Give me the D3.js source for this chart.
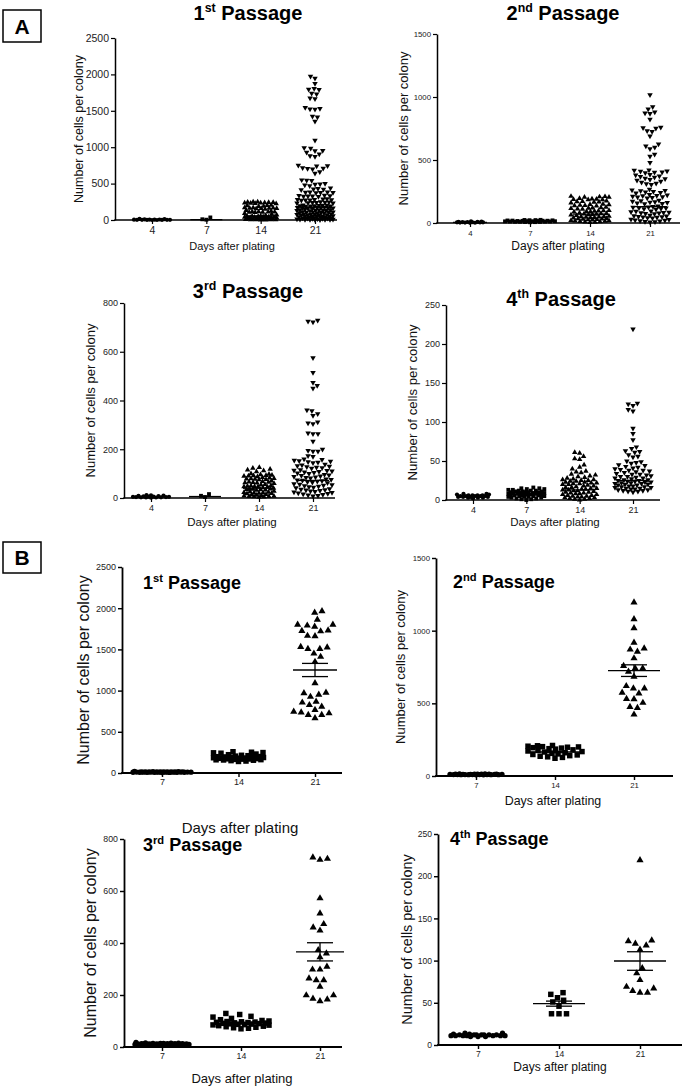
<!DOCTYPE html>
<html><head><meta charset="utf-8">
<script src="https://cdn.jsdelivr.net/npm/d3@7"></script>
<style>
body{margin:0;background:#fff}
svg{display:block}
text{font-family:"Liberation Sans",Arial,Helvetica,sans-serif}
</style>
</head><body>
<svg id="fig" width="685" height="1087"></svg>
<script>
// ---------------- DATA ----------------
const daysA = ["4", "7", "14", "21"];
const daysB = ["7", "14", "21"];
const ticks2500 = [0, 500, 1000, 1500, 2000, 2500];
const ticks1500 = [0, 500, 1000, 1500];
const ticks800 = [0, 200, 400, 600, 800];
const ticks250 = [0, 50, 100, 150, 200, 250];
const yTitle = "Number of cells per colony";
const xTitle = "Days after plating";
const passageNum = ["1", "2", "3", "4"];
const passageSuffix = ["st", "nd", "rd", "th"];
const panelLetters = ["A", "B"];

// Panel A, 1st passage
const A1_day4 = [0, 0, 1, 1, 2, 2, 3, 3, 4, 5, 6, 7, 9, 11, 14];
const A1_day7 = [4, 10, 35];
const A1_day14 = [250, 248, 245, 243, 240, 238, 236, 233, 230, 228, 225, 205, 200, 196, 190, 185, 170, 168, 166, 164, 162, 160, 158, 155, 150, 130, 120, 116, 114, 112, 110, 108, 106, 104, 90, 80, 70, 62, 56, 54, 50, 48, 46, 44, 42, 40, 38, 36, 32, 30, 28, 26, 24, 22, 20, 18, 16, 14, 12, 10, 9, 8, 6, 5, 4, 3, 2, 1];
const A1_day21 = [1975, 1945, 1875, 1805, 1795, 1790, 1740, 1730, 1675, 1665, 1545, 1530, 1525, 1520, 1425, 1415, 1355, 1095, 990, 985, 955, 950, 930, 905, 880, 870, 750, 745, 740, 715, 710, 705, 700, 660, 640, 550, 545, 540, 500, 495, 490, 480, 470, 440, 430, 425, 420, 415,
  385, 382, 380, 378, 375, 372, 340, 336, 332, 330, 328, 325, 322, 290, 286, 282, 280, 278, 275, 272, 270, 248, 245, 242, 240, 238, 236, 234, 232, 205, 202, 200, 198, 196, 194, 192, 190, 188,
  175, 172, 170, 168, 166, 164, 162, 160, 158, 142, 140, 138, 136, 134, 132, 130, 128, 126, 112, 110, 108, 106, 104, 102, 100, 98, 96, 82, 80, 78, 76, 74, 72, 70, 68, 66,
  56, 54, 52, 50, 48, 46, 44, 42, 40, 32, 30, 28, 26, 24, 22, 20, 18, 16, 12, 10, 8, 7, 6, 5, 4, 3, 2];
const A1_median = [3, 6, 55, 180];

// Panel A, 2nd passage
const A2_day4 = [1, 2, 3, 3, 4, 5, 5, 6, 7, 8, 9, 10, 12, 14];
const A2_day7 = [6, 7, 8, 9, 10, 10, 11, 12, 12, 13, 14, 14, 15, 16, 16, 17, 18, 18, 19, 20, 21, 22, 23, 24, 25];
const A2_day14 = [212, 210, 208, 206, 205, 195, 192, 190, 188, 186, 185, 175, 172, 170, 168, 165, 160, 150, 148, 145, 142, 140, 138, 135, 125, 122, 120, 118, 115, 112, 110, 100, 98, 96, 94, 92, 90, 88, 80, 76, 74, 72, 70, 68, 66, 64, 60, 55, 52, 50, 48, 46, 44, 42, 40, 36, 34, 32, 30, 28, 26, 24, 20, 18, 16, 14, 12, 10, 8, 6, 4];
const A2_day21 = [1018, 922, 905, 880, 872, 868, 822, 760, 755, 752, 732, 726, 690, 626, 610, 600, 588, 545, 530, 480, 420, 418, 412, 410, 405, 402, 398,
  385, 380, 372, 368, 362, 355, 350, 345, 338, 330, 322, 315, 310, 305,
  268, 262, 258, 255, 250, 246, 242, 238, 225, 222, 218, 215, 212, 208, 205, 202, 198, 180, 176, 172, 168, 165, 162, 158, 155, 152,
  135, 130, 127, 124, 121, 118, 115, 112, 108, 95, 92, 88, 85, 82, 80, 78, 75, 72, 60, 57, 54, 51, 48, 46, 44, 42, 40, 30, 27, 24, 21, 18, 15, 12, 10, 8];
const A2_median = [5, 14, 70, 130];

// Panel A, 3rd passage
const A3_day4 = [1, 2, 2, 3, 3, 4, 4, 5, 5, 6, 6, 7, 8, 9, 10, 11, 12];
const A3_day7 = [4, 9, 16];
const A3_day14 = [125, 122, 118, 115, 112, 108, 100, 98, 96, 94, 93, 92, 91, 90, 88, 84, 82, 80, 79, 78, 77, 76, 75, 70, 68, 66, 65, 64, 63, 62, 60,
  56, 54, 52, 50, 49, 48, 47, 46, 45, 42, 40, 38, 37, 36, 35, 34, 33, 32, 28, 26, 24, 23, 22, 21, 20, 19, 18, 15, 13, 12, 10, 9, 8, 7, 6, 5, 4, 3];
const A3_day21 = [729, 725, 722, 575, 515, 474, 461, 450, 361, 358, 345, 338, 311, 307, 304, 266, 263, 263, 232, 200, 195, 191, 191, 173, 170,
  160, 158, 155, 152, 150, 148, 146, 144, 138, 135, 132, 130, 128, 126, 124, 122, 116, 114, 112, 110, 108, 106, 104, 102, 100,
  96, 94, 92, 90, 88, 86, 84, 82, 78, 76, 74, 72, 70, 68, 66, 64, 62, 58, 56, 54, 52, 50, 48, 46, 44, 42, 38, 36, 34, 32, 30, 28, 26, 24, 22, 20, 18, 16, 14, 12, 10, 8];
const A3_median = [5, 6, 40, 72];

// Panel A, 4th passage
const A4_day4 = [2, 3, 3, 3, 4, 4, 4, 4, 5, 5, 5, 5, 5, 6, 6, 6, 6, 7, 7, 8, 8];
const A4_day7 = [16, 15, 15, 14, 14, 13, 13, 12, 12, 12, 11, 11, 11, 10, 10, 10, 10, 9, 9, 9, 9, 8, 8, 8, 8, 7, 7, 7, 7, 6, 6, 6, 5, 5, 5, 4, 4, 4, 3, 3, 2, 2, 1, 1, 0];
const A4_day14 = [61, 60, 56, 53, 52, 45, 42, 40, 37, 36, 35, 33, 32, 31, 30, 29, 28, 27, 26, 26, 25, 25, 24, 24, 23, 23, 22, 22, 21, 21, 20, 20, 19, 18, 18, 17, 16, 16, 15, 15, 14, 14, 13, 13, 12, 12, 11, 10, 10, 9, 9, 8, 8, 7, 7, 6, 6, 5, 5, 4, 4, 3, 3, 2, 2, 1, 1, 0];
const A4_day21 = [219, 124, 123, 121, 116, 114, 92, 85, 77, 68, 66, 63, 62, 61, 58, 56, 55, 50, 49, 48, 47, 45, 44, 43, 42, 41, 40, 39, 38, 38, 37, 36, 35, 34, 33, 33, 32, 31, 30, 30, 29, 28, 28, 27, 26, 26, 25, 25, 24, 24, 23, 23, 22, 22, 21, 21, 20, 20, 19, 19, 18, 18, 17, 17, 16, 16, 15, 15, 14, 14, 13, 13, 12, 12, 11, 11, 10];
const A4_median = [5, 7, 13, 25];

// Panel B, 1st passage
const B1_day7 = [8, 10, 12, 9, 11, 14, 7, 13, 10, 12, 15, 9, 11, 8, 16, 10, 12, 13, 11, 9, 14, 10, 12, 18, 6, 11, 13, 10, 9, 12];
const B1_day14 = [258, 252, 248, 245, 240, 230, 222, 215, 210, 205, 200, 198, 195, 192, 190, 188, 185, 182, 180, 178, 175, 172, 170, 168, 165, 162, 160, 158, 155, 150, 145, 140];
const B1_day21 = [1965, 1945, 1860, 1800, 1800, 1790, 1775, 1730, 1725, 1720, 1665, 1660, 1530, 1525, 1505, 1505, 1450, 1410, 1350, 1090, 975, 970, 950, 925, 865, 855, 825, 805, 765, 745, 735, 725, 705, 705, 665];
const B1_mean = [11, 190, 1250];
const B1_sem = [1, 6, 80];

// Panel B, 2nd passage
const B2_day7 = [8, 9, 10, 10, 11, 12, 9, 13, 10, 11, 12, 14, 8, 10, 11, 9, 12, 13, 10, 11, 15, 9, 10, 12, 11];
const B2_day14 = [210, 208, 205, 202, 200, 198, 195, 192, 188, 185, 180, 176, 172, 168, 165, 160, 156, 152, 148, 145, 140, 136, 132, 128, 122];
const B2_day21 = [1194, 1079, 1017, 918, 878, 870, 856, 810, 757, 741, 741, 718, 683, 619, 603, 603, 573, 568, 531, 529, 504, 476, 469, 423];
const B2_mean = [10, 165, 725];
const B2_sem = [1, 5, 40];

// Panel B, 3rd passage
const B3_day7 = [8, 10, 12, 14, 9, 11, 13, 15, 10, 12, 16, 11, 9, 13, 12, 10, 14, 18, 11, 12, 10, 13, 9, 15, 11, 12, 14, 10, 13, 11];
const B3_day14 = [129, 125, 118, 115, 110, 105, 102, 100, 98, 97, 96, 95, 94, 93, 92, 91, 90, 89, 88, 87, 86, 85, 84, 82, 80, 78, 76, 74, 72, 70];
const B3_day21 = [729, 724, 720, 572, 514, 473, 460, 448, 373, 360, 345, 309, 298, 298, 264, 257, 257, 232, 199, 199, 186, 183, 176];
const B3_mean = [12, 92, 366];
const B3_sem = [0.5, 3, 35];

// Panel B, 4th passage
const B4_day7 = [10, 11, 11, 12, 12, 11, 12, 13, 11, 10, 12, 14, 11, 12, 13, 11, 10, 12, 14, 11, 12];
const B4_day14 = [62, 60, 56, 53, 51, 46, 37, 37, 37];
const B4_day21 = [219, 124, 123, 120, 118, 113, 91, 85, 77, 69, 67, 64, 62, 62];
const B4_mean = [11.5, 49, 99.5];
const B4_sem = [0.4, 3, 11];

// ---------------- LAYOUT ----------------
const FONT = '"Liberation Sans",Arial,Helvetica,sans-serif';
const panels = [
  {type:"A", ord:0, days:daysA, data:[A1_day4, A1_day7, A1_day14, A1_day21], center:A1_median, ticks:ticks2500,
   ax:115, y0:220, yT:38, x0:152, x1:315, xEnd:337, half:[18,4,16,18], lineHalf:16,
   tickFs:10.5, xtFs:11, ytFs:12.5, ytX:79, xtX:232, xtY:250, tX:248, tY:20, tFs:20},
  {type:"A", ord:1, days:daysA, data:[A2_day4, A2_day7, A2_day14, A2_day21], center:A2_median, ticks:ticks1500,
   ax:437, y0:223, yT:34, x0:470, x1:650, xEnd:680, half:[13,25,19,19], lineHalf:17,
   tickFs:7.8, xtFs:12, ytFs:13, ytX:403, xtX:558, xtY:250, tX:563, tY:20, tFs:20},
  {type:"A", ord:2, days:daysA, data:[A3_day4, A3_day7, A3_day14, A3_day21], center:A3_median, ticks:ticks800,
   ax:124, y0:498, yT:303, x0:151, x1:313, xEnd:335, half:[18,4,15,19], lineHalf:16,
   tickFs:9, xtFs:11.5, ytFs:13, ytX:90, xtX:232, xtY:526, tX:248, tY:298, tFs:20},
  {type:"A", ord:3, days:daysA, data:[A4_day4, A4_day7, A4_day14, A4_day21], center:A4_median, ticks:ticks250,
   ax:446, y0:500, yT:305, x0:473, x1:633, xEnd:660, half:[16,18,17,18], lineHalf:16,
   tickFs:9, xtFs:11.5, ytFs:13.2, ytX:412, xtX:555, xtY:526, tX:561, tY:306, tFs:20},
  {type:"B", ord:0, days:daysB, data:[B1_day7, B1_day14, B1_day21], center:B1_mean, sem:B1_sem, ticks:ticks2500,
   ax:122, y0:773, yT:567, x0:162, x1:315, xEnd:342, half:[29,25,22], lineHalf:22,
   tickFs:9, xtFs:15, ytFs:16, ytX:83, xtX:240, xtY:833, tX:143, tY:589, tFs:18},
  {type:"B", ord:1, days:daysB, data:[B2_day7, B2_day14, B2_day21], center:B2_mean, sem:B2_sem, ticks:ticks1500,
   ax:436, y0:776, yT:558, x0:476, x1:634, xEnd:673, half:[26,27,13], lineHalf:26,
   tickFs:7.8, xtFs:12.4, ytFs:13, ytX:400, xtX:553, xtY:805, tX:453, tY:588, tFs:18},
  {type:"B", ord:2, days:daysB, data:[B3_day7, B3_day14, B3_day21], center:B3_mean, sem:B3_sem, ticks:ticks800,
   ax:124, y0:1047, yT:839, x0:162, x1:320, xEnd:342, half:[27,28,15], lineHalf:24,
   tickFs:8.8, xtFs:13, ytFs:16, ytX:90, xtX:242, xtY:1083, tX:143, tY:851, tFs:18},
  {type:"B", ord:3, days:daysB, data:[B4_day7, B4_day14, B4_day21], center:B4_mean, sem:B4_sem, ticks:ticks250,
   ax:438, y0:1045, yT:834, x0:478, x1:640, xEnd:682, half:[27,10,14], lineHalf:26,
   tickFs:8.6, xtFs:12, ytFs:14.4, ytX:407, xtX:560, xtY:1071, tX:450, tY:845, tFs:18}
];

const svg = d3.select("#fig");

// Panel letter boxes
[[3, 10, 32, 0], [3, 542, 31, 1]].forEach(([x, y, h, i]) => {
  svg.append("rect").attr("x", x).attr("y", y).attr("width", 38).attr("height", h)
    .attr("fill", "none").attr("stroke", "#000").attr("stroke-width", 1.5);
  svg.append("text").attr("x", x + 19).attr("y", y + h / 2 + 7.5).attr("text-anchor", "middle")
    .attr("font-size", 21).attr("font-weight", "bold").text(panelLetters[i]);
});

// beeswarm layout (deterministic)
function swarm(vals, yScale, half, D) {
  const pts = vals.map((v, i) => ({v, y: yScale(v), i})).sort((a, b) => a.v - b.v || a.i - b.i);
  const placed = [];
  pts.forEach((p, k) => {
    const iv = [];
    for (const q of placed) {
      const dy = Math.abs(q.y - p.y);
      if (dy < D) { const w = Math.sqrt(D * D - dy * dy); iv.push([q.dx - w, q.dx + w]); }
    }
    const sgn = k % 2 ? 1 : -1;
    const cands = [0];
    iv.forEach(a => cands.push(a[0], a[1]));
    cands.sort((a, b) => (Math.abs(a) - Math.abs(b)) || (b - a) * sgn);
    let chosen = null;
    for (const c of cands) {
      if (Math.abs(c) > half + 1e-6) break;
      if (iv.every(a => c <= a[0] + 1e-6 || c >= a[1] - 1e-6)) { chosen = c; break; }
    }
    if (chosen === null) {
      let best = 0, bs = -1;
      for (let c = -half; c <= half + 1e-9; c += 0.5) {
        let m = Infinity;
        for (const q of placed) { const d = Math.hypot(q.dx - c, q.y - p.y); if (d < m) m = d; }
        if (m > bs + 1e-9) { bs = m; best = c; }
      }
      chosen = best;
    }
    p.dx = chosen;
    placed.push(p);
  });
  return pts;
}

const shapeA = ["circle", "square", "up", "down"];
const shapeB = ["circle", "square", "up"];
function symPath(shape, type) {
  const big = type === "B";
  if (shape === "circle") return d3.symbol(d3.symbolCircle, big ? 22 : 14)();
  if (shape === "square") return d3.symbol(d3.symbolSquare, big ? 30 : 15)();
  return d3.symbol(d3.symbolTriangle, big ? 22 : 13)();
}

const fmt = d3.format("d");

panels.forEach(p => {
  const g = svg.append("g");
  const yMax = p.ticks[p.ticks.length - 1];
  const y = d3.scaleLinear().domain([0, yMax]).range([p.y0, p.yT]);
  const x = d3.scalePoint().domain(p.days).range([p.x0, p.x1]);
  const aw = p.type === "B" ? 1.8 : 1.5;

  // y axis
  const yAx = g.append("g").attr("transform", `translate(${p.ax},0)`)
    .call(d3.axisLeft(y).tickValues(p.ticks).tickFormat(fmt).tickSize(4).tickSizeOuter(0).tickPadding(2));
  yAx.select(".domain").attr("stroke", "#000").attr("stroke-width", aw);
  yAx.selectAll(".tick line").attr("stroke", "#000").attr("stroke-width", aw * 0.8);
  yAx.selectAll("text").attr("font-family", FONT).attr("font-size", p.tickFs).attr("fill", "#222");

  // x axis
  const xAx = g.append("g").attr("transform", `translate(0,${p.y0})`)
    .call(d3.axisBottom(x).tickSize(4).tickSizeOuter(0).tickPadding(p.type === "B" ? 2 : 3));
  xAx.select(".domain").remove();
  xAx.selectAll(".tick line").attr("stroke", "#000").attr("stroke-width", aw * 0.8);
  xAx.selectAll("text").attr("font-family", FONT).attr("font-size", p.tickFs).attr("fill", "#222");
  g.append("line").attr("x1", p.ax - aw / 2).attr("x2", p.xEnd).attr("y1", p.y0).attr("y2", p.y0)
    .attr("stroke", "#000").attr("stroke-width", aw);

  // titles
  g.append("text").attr("transform", `translate(${p.ytX},${(p.y0 + p.yT) / 2}) rotate(-90)`)
    .attr("text-anchor", "middle").attr("dominant-baseline", "central")
    .attr("font-size", p.ytFs).attr("fill", "#111").text(yTitle);
  g.append("text").attr("x", p.xtX).attr("y", p.xtY).attr("text-anchor", "middle")
    .attr("font-size", p.xtFs).attr("fill", "#111").text(xTitle);
  const t = g.append("text").attr("x", p.tX).attr("y", p.tY)
    .attr("font-size", p.tFs).attr("font-weight", "bold")
    .attr("text-anchor", p.type === "A" ? "middle" : "start");
  t.append("tspan").text(passageNum[p.ord]);
  t.append("tspan").text(passageSuffix[p.ord]).attr("font-size", p.tFs * 0.62).attr("dy", -p.tFs * 0.38);
  t.append("tspan").text(" Passage").attr("dy", p.tFs * 0.38);

  // points
  const shapes = p.type === "A" ? shapeA : shapeB;
  const D = p.type === "A" ? 5 : 7.5;
  p.days.forEach((day, gi) => {
    const cx = x(day);
    const pts = swarm(p.data[gi], y, p.half[gi], D);
    const path = symPath(shapes[gi], p.type);
    g.append("g").selectAll("path").data(pts).join("path")
      .attr("d", path).attr("fill", "#000")
      .attr("transform", d => `translate(${cx + d.dx},${d.y})` + (shapes[gi] === "down" ? " rotate(180)" : ""));
  });

  // center lines (median in A, mean ± SEM in B)
  p.days.forEach((day, gi) => {
    const cx = x(day);
    const m = p.center[gi];
    g.append("line").attr("x1", cx - p.lineHalf).attr("x2", cx + p.lineHalf)
      .attr("y1", y(m)).attr("y2", y(m)).attr("stroke", "#000").attr("stroke-width", 1.3);
    if (p.sem) {
      const s = p.sem[gi];
      [m - s, m + s].forEach(v => {
        g.append("line").attr("x1", cx - 13).attr("x2", cx + 13).attr("y1", y(v)).attr("y2", y(v))
          .attr("stroke", "#000").attr("stroke-width", 1.3);
      });
      g.append("line").attr("x1", cx).attr("x2", cx).attr("y1", y(m - s)).attr("y2", y(m + s))
        .attr("stroke", "#000").attr("stroke-width", 1.3);
    }
  });
});
</script>
</body></html>
